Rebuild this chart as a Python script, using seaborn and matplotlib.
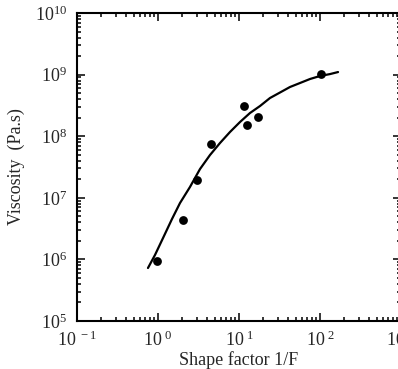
import matplotlib
matplotlib.use('Agg')
import matplotlib.pyplot as plt
import matplotlib.ticker as mticker
import pandas as pd
import seaborn as sns

# measured points (shape factor 1/F, viscosity Pa.s)
shape_factor = [0.97, 2.04, 3.03, 4.5, 11.5, 12.6, 17.2, 103]
viscosity = [9.4e5, 4.4e6, 1.95e7, 7.4e7, 3.1e8, 1.5e8, 2.05e8, 1.03e9]

# fitted curve
curve_x = [0.752, 0.918, 1.153, 1.489, 1.869, 2.483, 3.30, 4.385, 5.83, 7.74,
           10.29, 13.67, 18.17, 24.14, 32.08, 42.6, 56.6, 75.2, 100, 133, 167]
curve_y = [7.25e5, 1.18e6, 2.22e6, 4.53e6, 8.23e6, 1.50e7, 2.93e7, 4.95e7,
           7.76e7, 1.17e8, 1.70e8, 2.38e8, 3.09e8, 4.17e8, 5.12e8, 6.29e8,
           7.30e8, 8.48e8, 9.49e8, 1.02e9, 1.10e9]

x_ticks = [0.1, 1, 10, 100, 1000]
x_ticklabels = ['10$^{\\ -1}$', '10$^{\\ 0}$', '10$^{\\ 1}$', '10$^{\\ 2}$', '10$^{\\ 3}$']
y_ticks = [1e5, 1e6, 1e7, 1e8, 1e9, 1e10]
y_ticklabels = ['10$^{5}$', '10$^{6}$', '10$^{7}$', '10$^{8}$', '10$^{9}$', '10$^{10}$']

df_pts = pd.DataFrame({'x': shape_factor, 'y': viscosity})
df_curve = pd.DataFrame({'x': curve_x, 'y': curve_y})

sns.set_style('ticks')
plt.rcParams['font.family'] = ['Liberation Serif', 'DejaVu Serif']
plt.rcParams['mathtext.fontset'] = 'custom'
plt.rcParams['mathtext.rm'] = 'Liberation Serif'
plt.rcParams['mathtext.it'] = 'Liberation Serif'

fig = plt.figure(figsize=(3.98, 3.69), dpi=100)
ax = fig.add_axes([77 / 398, 48 / 369, 324 / 398, 308 / 369])

sns.lineplot(data=df_curve, x='x', y='y', ax=ax, color='black', linewidth=1.6,
             sort=False, estimator=None)
sns.scatterplot(data=df_pts, x='x', y='y', ax=ax, color='black', s=40,
                edgecolor='black', linewidth=0, zorder=3)

ax.set_xscale('log')
ax.set_yscale('log')
ax.set_xlim(0.1, 1000)
ax.set_ylim(1e5, 1e10)

ax.set_xticks(x_ticks)
ax.set_xticklabels(x_ticklabels, fontsize=13)
ax.set_yticks(y_ticks)
ax.set_yticklabels(y_ticklabels, fontsize=13)
ax.xaxis.set_minor_locator(mticker.LogLocator(base=10, subs=range(2, 10), numticks=20))
ax.yaxis.set_minor_locator(mticker.LogLocator(base=10, subs=range(2, 10), numticks=20))
ax.xaxis.set_minor_formatter(mticker.NullFormatter())
ax.yaxis.set_minor_formatter(mticker.NullFormatter())

ax.tick_params(which='both', direction='in', top=True, right=True, width=1.1, color='black')
ax.tick_params(which='major', length=6, pad=7)
ax.tick_params(which='minor', length=3)
for sp in ax.spines.values():
    sp.set_linewidth(1.5)
    sp.set_color('black')

ax.set_xlabel('Shape factor 1/F', fontsize=13, labelpad=1)
ax.set_ylabel('Viscosity  (Pa.s)', fontsize=13, labelpad=7)

fig.savefig('out.png', dpi=100)
